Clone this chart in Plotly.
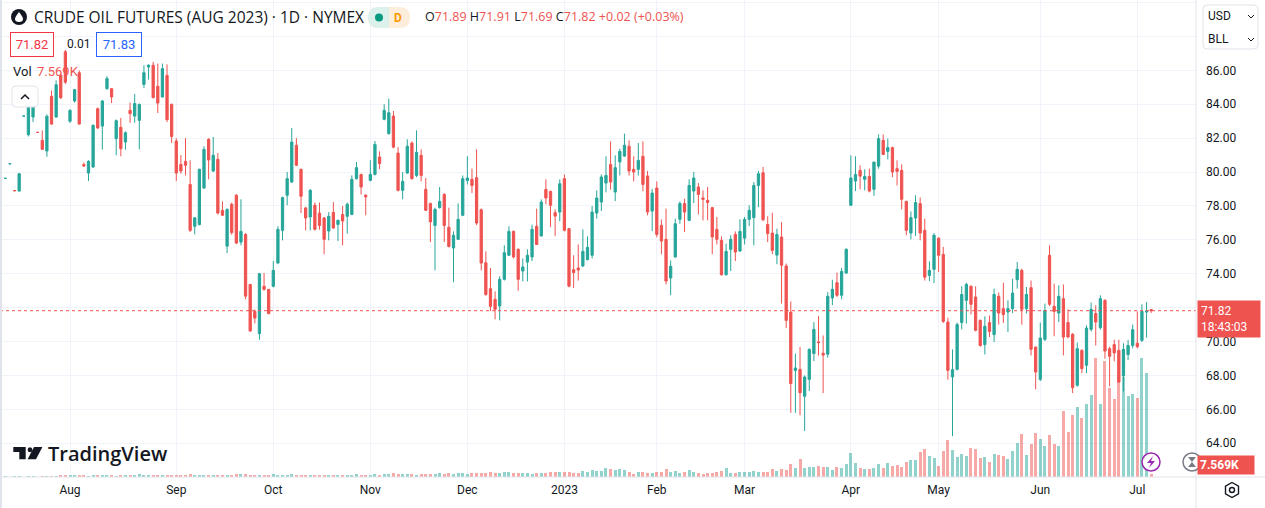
import numpy as np
import pandas as pd
import plotly.graph_objects as go

# trading calendar (CME holidays inside the window)
START = "2022-07-12"
HOLIDAYS = ["2022-09-05", "2022-11-24", "2022-12-26", "2023-01-02", "2023-01-16",
            "2023-02-20", "2023-04-07", "2023-05-29", "2023-06-19", "2023-07-04"]
TICK_TEXT = ["Aug", "Sep", "Oct", "Nov", "Dec", "2023", "Feb", "Mar", "Apr", "May", "Jun", "Jul"]
PRICE_TICKS = [62, 64, 66, 68, 70, 72, 74, 76, 78, 80, 82, 84, 86, 88, 90]
HIDDEN_TICKS = [72, 88]  # covered by the price label and the currency box

# daily OHLC (Jul 12 2022 -> Jul 7 2023)
open_ = [
    79.63, 80.49, 78.90, 78.88, 83.30, 82.20, 83.25, 82.34, 81.87, 81.24, 84.47, 83.25, 85.70, 87.10,
    83.00, 84.19, 85.86, 80.44, 79.94, 80.30, 83.74, 82.71, 84.92, 84.92, 81.97, 82.64, 81.77, 83.64,
    83.30, 83.05, 85.17, 86.20, 86.30, 85.06, 84.43, 85.70, 83.99,
    81.83, 80.45, 80.63, 79.27, 76.80, 76.90, 79.06, 81.93, 80.06, 80.75, 77.74, 75.63, 78.10, 78.63,
    75.87, 76.32, 73.37, 71.78, 70.47, 73.26, 73.08,
    73.26, 74.63, 76.56, 78.63, 79.41, 81.58, 80.16, 77.88, 77.35, 78.04, 77.58, 77.29, 76.52, 77.62,
    76.91, 77.50, 77.39, 77.50, 79.61, 79.86, 78.63,
    79.51, 79.86, 80.89, 83.11, 82.27, 83.30, 81.12, 78.92, 79.94, 81.71, 79.80, 80.99, 78.98, 78.14,
    76.85, 77.90, 78.68, 76.75, 75.52, 76.03, 77.45,
    79.50, 79.57, 79.67, 77.78, 74.65, 73.12, 72.49, 72.10, 73.67, 75.09, 76.50, 75.44, 74.16, 74.69,
    74.99, 76.80, 76.23, 78.98, 78.86, 77.60, 77.64,
    79.61, 76.66, 74.24, 74.34, 74.46, 74.83, 75.09, 77.58, 78.23, 79.35, 80.45, 78.82, 80.60, 80.94,
    81.52, 80.16, 80.16, 80.93, 79.77, 77.70,
    79.06, 76.85, 76.03, 73.75, 74.99, 77.21, 78.14, 77.15, 78.88, 79.12, 78.47, 78.33, 77.90, 76.62,
    75.97, 73.94, 75.44, 76.32, 75.34,
    76.10, 77.21, 77.31, 79.21, 79.96, 76.91, 76.40, 75.10, 76.17, 74.46, 71.74, 68.30, 68.36, 66.77,
    67.77, 69.29, 69.98, 69.31, 69.25, 72.57, 73.47, 72.73, 74.04,
    78.04, 79.47, 80.10, 79.57, 79.74, 78.98, 80.35, 81.87, 81.22, 81.44, 80.20, 80.10, 78.27, 76.40,
    77.29, 78.14, 76.56, 73.90, 74.26,
    76.10, 75.14, 71.15, 67.91, 68.36, 71.12, 72.43, 73.27, 72.63, 71.25, 69.82, 71.12, 70.41, 72.67,
    71.94, 71.74, 71.94, 73.65, 74.20, 71.94, 73.18, 69.68,
    67.77, 70.13, 75.09, 72.08, 71.68, 72.53, 71.12, 70.43, 67.42, 69.48, 68.60, 70.72, 71.65, 70.82,
    72.43, 69.58, 69.82, 69.48, 67.97, 69.23, 69.77,
    69.90, 70.07, 71.74, 71.89,
]
high = [
    79.63, 80.49, 78.90, 79.95, 83.30, 84.23, 84.05, 82.34, 82.46, 83.40, 84.82, 85.41, 85.80, 87.20,
    83.70, 84.90, 86.00, 80.57, 80.70, 82.80, 83.80, 84.25, 85.65, 84.95, 83.10, 83.19, 82.40, 84.10,
    84.60, 84.05, 86.30, 86.35, 86.50, 86.40, 86.40, 86.35, 84.05,
    82.00, 81.00, 82.00, 80.69, 77.33, 80.20, 81.52, 82.00, 82.07, 81.12, 78.27, 77.85, 78.20, 78.70,
    78.39, 76.40, 73.40, 71.90, 74.05, 74.04, 73.10,
    74.75, 76.80, 78.55, 80.00, 82.60, 82.00, 80.20, 77.95, 79.00, 78.20, 78.20, 77.35, 77.64, 78.23,
    77.20, 78.00, 78.20, 79.80, 80.60, 79.90, 78.70,
    80.70, 81.83, 81.22, 84.00, 84.33, 83.60, 81.47, 80.00, 81.93, 81.81, 82.46, 81.34, 79.65, 78.20,
    77.90, 79.12, 78.75, 77.90, 76.50, 78.15, 79.80,
    80.93, 80.20, 81.34, 77.85, 75.32, 74.34, 72.96, 73.85, 75.68, 76.80, 76.55, 75.50, 74.90, 75.44,
    76.90, 77.84, 78.39, 79.57, 78.90, 77.80, 79.57,
    79.86, 76.70, 75.09, 75.73, 76.62, 76.20, 78.00, 78.92, 79.86, 80.93, 81.81, 80.99, 81.38, 82.27,
    81.87, 80.93, 81.71, 81.81, 80.06, 79.00,
    79.45, 77.20, 77.84, 74.79, 77.25, 78.27, 78.43, 79.57, 80.00, 79.35, 78.92, 79.12, 77.95, 77.35,
    76.20, 75.78, 76.27, 76.50, 77.21,
    77.35, 78.04, 79.41, 80.06, 80.30, 77.39, 77.60, 76.66, 77.05, 74.60, 72.37, 69.29, 69.68, 68.00,
    69.60, 71.15, 71.50, 70.36, 72.92, 73.65, 74.07, 74.34, 75.50,
    80.99, 80.93, 80.40, 80.16, 80.20, 80.60, 82.22, 82.22, 81.97, 81.50, 80.69, 80.45, 78.30, 77.68,
    78.63, 78.50, 77.25, 74.73, 76.40,
    76.15, 75.58, 71.41, 69.54, 71.12, 73.27, 73.47, 73.30, 73.26, 71.30, 71.49, 71.54, 73.12, 72.90,
    73.47, 72.43, 73.71, 74.69, 74.30, 73.22, 73.60, 69.70,
    71.12, 72.24, 75.68, 73.42, 73.31, 73.37, 71.90, 70.50, 69.94, 69.55, 70.96, 72.30, 72.14, 72.73,
    72.50, 69.70, 70.11, 70.11, 69.90, 70.10, 71.00,
    71.78, 72.20, 72.33, 71.91,
]
low = [
    79.63, 80.49, 78.90, 78.85, 83.30, 82.10, 82.95, 82.34, 81.30, 80.90, 82.80, 83.20, 84.30, 85.20,
    82.90, 84.10, 82.80, 80.30, 79.47, 80.25, 82.55, 81.32, 84.85, 84.07, 80.99, 80.93, 81.32, 82.90,
    82.90, 81.34, 84.96, 85.45, 84.35, 83.48, 84.40, 82.95, 81.71,
    79.47, 79.90, 79.80, 76.46, 76.32, 76.85, 79.00, 79.57, 80.00, 77.50, 77.40, 75.22, 76.30, 75.75,
    75.68, 72.49, 70.60, 71.07, 70.11, 73.00, 71.60,
    73.20, 74.60, 75.97, 78.04, 79.35, 80.35, 77.58, 76.56, 76.56, 76.55, 76.60, 75.15, 75.97, 76.65,
    75.93, 75.68, 76.37, 77.45, 79.55, 78.68, 77.45,
    79.45, 79.80, 80.17, 83.05, 82.20, 81.40, 78.86, 78.39, 79.90, 79.55, 79.70, 79.45, 77.70, 75.87,
    74.20, 77.85, 75.87, 75.55, 73.50, 76.00, 77.40,
    79.27, 78.76, 76.87, 74.20, 72.70, 71.80, 71.31, 71.25, 73.60, 75.05, 74.90, 73.00, 73.55, 73.55,
    74.75, 75.70, 76.20, 78.10, 76.75, 76.23, 77.10,
    76.50, 73.20, 73.16, 73.60, 74.40, 74.80, 74.90, 77.25, 77.70, 78.80, 78.96, 78.29, 79.80, 80.90,
    79.80, 79.45, 79.80, 78.86, 77.45, 76.52,
    76.15, 75.15, 73.37, 72.73, 74.95, 76.95, 76.46, 77.10, 78.17, 77.50, 77.15, 77.15, 75.15, 75.73,
    73.90, 73.90, 74.16, 74.75, 75.30,
    75.73, 76.81, 75.68, 77.93, 77.10, 75.87, 75.15, 74.56, 72.24, 70.80, 65.80, 65.80, 65.65, 64.72,
    67.08, 68.85, 69.18, 66.96, 69.05, 72.14, 72.63, 72.49, 74.00,
    78.00, 78.88, 78.98, 78.92, 78.80, 78.60, 80.20, 81.00, 80.75, 79.70, 79.21, 77.80, 76.27, 76.03,
    76.23, 75.97, 73.60, 73.57, 73.45,
    74.10, 71.10, 67.75, 64.42, 68.30, 70.72, 71.06, 71.60, 70.60, 69.70, 69.24, 70.27, 69.97, 71.00,
    71.10, 70.56, 71.68, 73.12, 71.00, 71.65, 69.18, 67.18,
    67.67, 70.03, 72.10, 70.31, 71.15, 69.18, 70.20, 66.96, 67.34, 68.14, 68.14, 70.60, 69.77, 70.70,
    68.99, 67.36, 68.83, 67.56, 67.06, 68.90, 69.60,
    69.60, 69.98, 70.23, 71.69,
]
close = [
    79.63, 80.49, 78.90, 79.90, 83.30, 84.00, 84.00, 82.34, 81.34, 83.29, 82.83, 85.15, 84.39, 85.30,
    83.64, 84.86, 82.83, 80.36, 80.63, 82.76, 82.60, 84.19, 85.51, 84.43, 83.03, 81.38, 82.32, 83.45,
    84.04, 83.98, 85.86, 86.30, 84.39, 84.07, 86.10, 83.09, 82.10,
    79.94, 80.06, 80.40, 76.56, 77.30, 80.16, 81.34, 80.71, 80.99, 77.58, 77.45, 77.80, 76.43, 75.81,
    76.50, 72.68, 70.62, 71.39, 74.00, 73.08, 71.65,
    74.20, 76.62, 78.49, 79.61, 81.77, 80.40, 78.57, 77.29, 78.92, 76.62, 76.85, 76.03, 77.39, 76.70,
    77.15, 77.11, 78.10, 79.57, 80.26, 79.12, 78.53,
    79.86, 81.63, 80.50, 83.64, 83.50, 81.47, 78.92, 79.45, 81.52, 79.61, 81.16, 79.80, 77.74, 77.06,
    77.80, 78.27, 76.85, 75.61, 76.27, 77.21, 79.61,
    79.65, 79.21, 76.99, 74.63, 72.78, 72.08, 71.90, 73.67, 75.24, 76.50, 74.99, 73.67, 74.40, 75.09,
    76.62, 75.73, 78.23, 78.47, 78.04, 77.40, 79.31,
    76.56, 73.27, 74.07, 74.22, 75.32, 75.56, 77.64, 78.47, 79.71, 79.80, 79.41, 80.26, 81.22, 81.58,
    80.06, 80.00, 80.69, 79.27, 77.64, 78.76,
    76.32, 75.93, 73.57, 74.44, 76.95, 78.14, 77.64, 79.21, 79.65, 78.68, 78.39, 78.20, 76.17, 76.03,
    73.94, 75.32, 76.03, 75.28, 76.50,
    77.21, 77.74, 79.21, 79.90, 77.19, 76.37, 75.38, 76.32, 74.50, 71.25, 67.52, 68.44, 66.98, 67.91,
    69.54, 70.72, 69.94, 69.20, 72.67, 73.08, 72.73, 74.14, 75.44,
    79.65, 79.86, 79.76, 79.74, 78.88, 80.59, 81.97, 81.04, 81.44, 80.00, 80.04, 78.39, 76.56, 77.31,
    78.20, 76.40, 73.80, 74.20, 76.27,
    75.09, 71.19, 68.30, 68.34, 71.00, 72.78, 73.37, 72.20, 70.66, 69.77, 70.90, 70.60, 72.78, 71.68,
    71.59, 71.94, 72.86, 74.26, 71.90, 72.78, 69.54, 68.20,
    70.21, 71.84, 72.20, 71.78, 72.67, 70.27, 70.27, 67.28, 69.58, 68.40, 70.80, 71.90, 71.15, 72.53,
    69.44, 69.13, 69.33, 67.61, 69.54, 69.77, 70.70,
    69.70, 71.78, 71.80, 71.82,
]
# volume in thousands of contracts
volume_k = [
    2.1, 1.5, 1.8, 3.2, 1.2, 3.6, 3.0, 1.4, 2.5, 3.9, 4.2, 3.1, 4.6, 5.0,
    6, 5, 7, 5, 4, 6, 5, 7, 6, 5, 4, 6, 7, 5, 6, 8, 6, 7, 5, 6, 7, 6, 5,
    6, 7, 5, 8, 6, 7, 6, 5, 7, 6, 5, 6, 7, 8, 9, 8, 7, 6, 7, 5, 6,
    8, 7, 6, 7, 9, 6, 7, 5, 6, 7, 6, 5, 6, 7, 6, 5, 6, 7, 8, 6, 7,
    7, 8, 7, 9, 10, 11, 9, 8, 9, 8, 7, 8, 9, 8, 10, 11, 9, 12, 10, 11, 12,
    10, 11, 12, 11, 13, 14, 13, 12, 15, 14, 13, 12, 11, 12, 10, 11, 12, 13, 14, 15, 16,
    15, 15, 13, 13, 19, 16, 22, 19, 19, 28, 25, 22, 25, 22, 16, 10, 16, 16, 13, 13,
    16, 16, 25, 16, 19, 13, 16, 21, 16, 13, 10, 13, 13, 16, 18, 27, 13, 13, 16, 16,
    15, 19, 16, 16, 16, 25, 19, 25, 22, 40, 28, 55, 28, 31, 31, 34, 31, 31, 22, 31,
    28, 40, 73, 43, 28, 25, 25, 28, 40, 28, 43, 34, 37, 31, 46, 52, 52, 76, 85, 64,
    58, 34, 79, 112, 82, 61, 70, 64, 86,
    83, 56, 59, 44, 68, 65, 62, 53, 77, 101, 128, 65, 98, 131, 113, 92, 125, 98, 92, 197,
    134, 185, 209, 176, 218, 245, 356, 218, 347, 266, 233, 305, 300, 242, 248, 236, 356, 311, 7.569,
]

UP = "#26a69a"
DOWN = "#ef5350"
TXT = "#131722"
LINE = "#e0e3eb"
GRID = "#f0f3fa"
FONT = "Roboto, Liberation Sans, sans-serif"
FONT_WIDE = "Open Sans, Roboto, sans-serif"

W, H = 1265, 508
PW, PH = 1196, 477  # plot area in px


def px(x):
    return x / PW


def py(y):
    return 1 - y / PH


def rrect(x0, y0, x1, y1, r):
    return (f"M {px(x0 + r)},{py(y0)} L {px(x1 - r)},{py(y0)} Q {px(x1)},{py(y0)} {px(x1)},{py(y0 + r)} "
            f"L {px(x1)},{py(y1 - r)} Q {px(x1)},{py(y1)} {px(x1 - r)},{py(y1)} "
            f"L {px(x0 + r)},{py(y1)} Q {px(x0)},{py(y1)} {px(x0)},{py(y1 - r)} "
            f"L {px(x0)},{py(y0 + r)} Q {px(x0)},{py(y0)} {px(x0 + r)},{py(y0)} Z")


def poly(points):
    return "M " + " L ".join(f"{px(a)},{py(b)}" for a, b in points) + " Z"


def polyline(points):
    return "M " + " L ".join(f"{px(a)},{py(b)}" for a, b in points)


dates = pd.bdate_range(START, periods=len(close), freq="C", holidays=HOLIDAYS)
idx = np.arange(len(dates))
month_starts = [i for i in range(1, len(dates)) if dates[i].month != dates[i - 1].month]
price_text = ["" if v in HIDDEN_TICKS else f"{v:.2f}" for v in PRICE_TICKS]

vol_colors = ["rgba(38,166,154,0.5)" if c >= o else "rgba(239,83,80,0.5)" for o, c in zip(open_, close)]

fig = go.Figure()
fig.add_trace(go.Bar(x=idx, y=volume_k, marker=dict(color=vol_colors, line_width=0),
                     width=0.65, yaxis="y", hoverinfo="skip"))
fig.add_trace(go.Candlestick(x=idx, open=open_, high=high, low=low, close=close,
                             increasing=dict(line=dict(color=UP, width=1), fillcolor=UP),
                             decreasing=dict(line=dict(color=DOWN, width=1), fillcolor=DOWN),
                             whiskerwidth=0, yaxis="y2", hoverinfo="skip"))

last_o, last_h, last_l, last_c = open_[-1], high[-1], low[-1], close[-1]
chg = last_c - close[-2]
pct = chg / close[-2] * 100

shapes = [
    # last price dotted line
    dict(type="line", xref="paper", yref="y2", x0=0, x1=1, y0=last_c, y1=last_c,
         line=dict(color=DOWN, width=1, dash="dot")),
    # frame lines
    dict(type="rect", xref="paper", yref="paper", x0=0, x1=px(2), y0=py(H), y1=py(0),
         fillcolor=LINE, line_width=0),
    dict(type="line", xref="paper", yref="paper", x0=1, x1=1, y0=py(H), y1=py(0),
         line=dict(color=LINE, width=1)),
    dict(type="line", xref="paper", yref="paper", x0=0, x1=px(W), y0=0, y1=0,
         line=dict(color=LINE, width=1)),
    # currency / unit box
    dict(type="path", xref="paper", yref="paper", path=rrect(1203, 5, 1258, 49, 4),
         fillcolor="white", line=dict(color=LINE, width=1)),
    dict(type="path", xref="paper", yref="paper", path=polyline([(1248, 15), (1251, 18), (1254, 15)]),
         line=dict(color=TXT, width=1)),
    dict(type="path", xref="paper", yref="paper", path=polyline([(1248, 38), (1251, 41), (1254, 38)]),
         line=dict(color=TXT, width=1)),
    # collapse button
    dict(type="path", xref="paper", yref="paper", path=rrect(12, 86, 38, 107, 4),
         fillcolor="white", line=dict(color=LINE, width=1)),
    dict(type="path", xref="paper", yref="paper", path=polyline([(21, 99), (25, 95), (29, 99)]),
         line=dict(color=TXT, width=1.5)),
    # symbol icon
    dict(type="circle", xref="paper", yref="paper", x0=px(11), x1=px(27), y0=py(25), y1=py(9),
         fillcolor=TXT, line_width=0),
    dict(type="path", xref="paper", yref="paper",
         path=(f"M {px(19)},{py(12)} Q {px(23)},{py(17)} {px(23)},{py(19)} Q {px(23)},{py(22)} {px(19)},{py(22)} "
               f"Q {px(15)},{py(22)} {px(15)},{py(19)} Q {px(15)},{py(17)} {px(19)},{py(12)} Z"),
         fillcolor="white", line_width=0),
    # market status badge
    dict(type="path", xref="paper", yref="paper", path=rrect(368, 7, 410, 28, 10),
         fillcolor="#fdeedc", line_width=0),
    dict(type="path", xref="paper", yref="paper",
         path=(f"M {px(378)},{py(7)} L {px(389)},{py(7)} L {px(389)},{py(28)} L {px(378)},{py(28)} "
               f"Q {px(368)},{py(28)} {px(368)},{py(17.5)} Q {px(368)},{py(7)} {px(378)},{py(7)} Z"),
         fillcolor="#dcf1ec", line_width=0),
    dict(type="circle", xref="paper", yref="paper", x0=px(375), x1=px(383), y0=py(21.5), y1=py(13.5),
         fillcolor="#089981", line_width=0),
    # TradingView logo
    dict(type="path", xref="paper", yref="paper",
         path=poly([(13.3, 447), (25.7, 447), (25.7, 459.3), (19.3, 459.3), (19.3, 452), (13.3, 452)]),
         fillcolor=TXT, line_width=0),
    dict(type="circle", xref="paper", yref="paper", x0=px(27.6), x1=px(32.4), y0=py(452.2), y1=py(447.2),
         fillcolor=TXT, line_width=0),
    dict(type="path", xref="paper", yref="paper",
         path=poly([(34, 447), (42.4, 447), (36, 459.3), (27.6, 459.3)]),
         fillcolor=TXT, line_width=0),
    # lightning icon
    dict(type="circle", xref="paper", yref="paper", x0=px(1142), x1=px(1160), y0=py(471), y1=py(453),
         fillcolor="white", line=dict(color="#9c27b0", width=1.5)),
    dict(type="path", xref="paper", yref="paper",
         path=poly([(1153, 456), (1147, 463), (1151, 463), (1149, 468), (1155, 461), (1151, 461)]),
         fillcolor="#9c27b0", line_width=0),
    # hourglass icon
    dict(type="circle", xref="paper", yref="paper", x0=px(1183), x1=px(1201), y0=py(471), y1=py(453),
         fillcolor="white", line=dict(color="#787b86", width=1.5)),
    dict(type="path", xref="paper", yref="paper",
         path=poly([(1188, 457), (1196, 457), (1192, 462), (1196, 467), (1188, 467), (1192, 462)]),
         fillcolor="#787b86", line_width=0),
    # settings icon
    dict(type="path", xref="paper", yref="paper",
         path=poly([(1232, 482.5), (1238.5, 486.2), (1238.5, 493.8), (1232, 497.5), (1225.5, 493.8), (1225.5, 486.2)]),
         line=dict(color=TXT, width=1.4)),
    dict(type="circle", xref="paper", yref="paper", x0=px(1229.5), x1=px(1234.5), y0=py(492.5), y1=py(487.5),
         line=dict(color=TXT, width=1.4)),
]


def label(x, y, text, size=13, color=TXT, anchor="left", family=FONT, **kw):
    return dict(xref="paper", yref="paper", x=px(x), y=py(y), text=text, showarrow=False,
                xanchor=anchor, yanchor="middle", font=dict(family=family, size=size, color=color), **kw)


def ohlc_part(letter, value):
    return f"<span style='color:{TXT}'>{letter}</span><span style='color:{DOWN}'>{value}</span>"


ohlc_text = (ohlc_part("O", f"{last_o:.2f}") + " " + ohlc_part("H", f"{last_h:.2f}") + " "
             + ohlc_part("L", f"{last_l:.2f}") + " " + ohlc_part("C", f"{last_c:.2f}")
             + f" <span style='color:{DOWN}'>{chg:+.2f} ({pct:+.2f}%)</span>")

annotations = [
    label(32, 17, "CRUDE OIL FUTURES (AUG 2023) · 1D · NYMEX", size=15.5, family=FONT_WIDE),
    label(398, 17.5, "<b>D</b>", size=12, color="#ff9800", anchor="center"),
    label(423, 17, ohlc_text, size=12.5, family=FONT_WIDE),
    label(10, 44, "71.82", size=13, color="#f23645", bordercolor="#f23645", borderwidth=1,
          borderpad=4, bgcolor="white", width=34),
    label(65, 44, "0.01", size=12, color=TXT),
    label(96, 44, "71.83", size=13, color="#2962ff", bordercolor="#2962ff", borderwidth=1,
          borderpad=4, bgcolor="white", width=36),
    label(11, 72, "Vol", size=13, color=TXT),
    label(35, 72, f"{volume_k[-1]:.3f}K", size=13, color=DOWN),
    dict(xref="paper", yref="paper", x=px(46), y=py(453), text="TradingView", showarrow=False,
         xanchor="left", yanchor="middle", font=dict(family=FONT_WIDE, size=20, color=TXT, weight=600)),
    label(1206, 16, "USD", size=12, color=TXT),
    label(1206, 39, "BLL", size=12, color=TXT),
    dict(xref="paper", yref="y2", x=1, y=last_c, xshift=1, yshift=11, xanchor="left", yanchor="top",
         text=f"{last_c:.2f}<br>18:43:03", showarrow=False, align="left", bgcolor=DOWN,
         borderpad=3, width=56, font=dict(family=FONT, size=12, color="white")),
    dict(xref="paper", yref="paper", x=1, y=0, xshift=1, yshift=2, xanchor="left", yanchor="bottom",
         text=f"<b>{volume_k[-1]:.3f}K</b>", showarrow=False, align="left", bgcolor=DOWN,
         borderpad=2, width=52, font=dict(family=FONT, size=12, color="white")),
]

fig.update_layout(
    width=W, height=H,
    margin=dict(l=0, r=W - PW, t=0, b=H - PH),
    paper_bgcolor="white", plot_bgcolor="white",
    showlegend=False, hovermode=False, bargap=0,
    font=dict(family=FONT, color=TXT),
    xaxis=dict(range=[-1.15, 257.7], tickvals=month_starts, ticktext=TICK_TEXT,
               showgrid=True, gridcolor=GRID, gridwidth=1, zeroline=False,
               ticks="", ticklabelstandoff=4, tickfont=dict(size=12, color=TXT),
               showline=False, rangeslider=dict(visible=False), fixedrange=True),
    yaxis=dict(range=[0, 1431], visible=False, showgrid=False, fixedrange=True),
    yaxis2=dict(overlaying="y", side="right", anchor="x", range=[62.01, 90.15],
                tickvals=PRICE_TICKS, ticktext=price_text,
                showgrid=True, gridcolor=GRID, gridwidth=1, zeroline=False,
                ticks="", ticklabelstandoff=9, tickfont=dict(size=12, color=TXT),
                showline=False, fixedrange=True),
    shapes=shapes,
    annotations=annotations,
)

# page body margin would shift the chart by 8px
fig.write_html("out.html", config={"displayModeBar": False},
               post_script="document.body.style.margin='0';")
